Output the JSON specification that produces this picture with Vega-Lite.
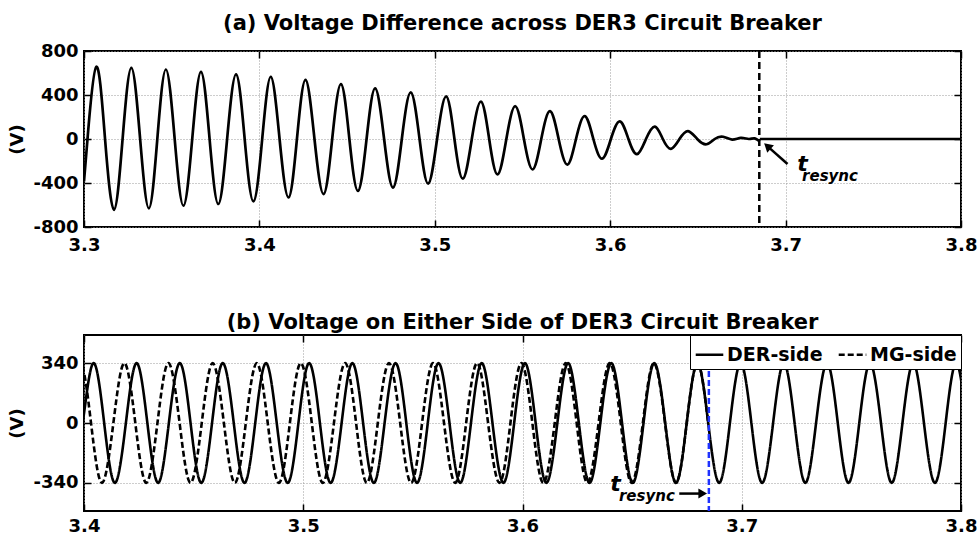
{
  "$schema": "https://vega.github.io/schema/vega-lite/v6.json",
  "background": "white",
  "padding": {"left": 7, "top": 12, "right": 2, "bottom": 0},
  "spacing": 55,
  "resolve": {"legend": {"strokeDash": "independent"}},
  "config": {
    "font": "DejaVu Sans",
    "view": {"stroke": "black", "strokeWidth": 2},
    "title": {"font": "DejaVu Sans", "fontSize": 21, "fontWeight": "bold", "color": "black", "anchor": "middle"},
    "axis": {
      "labelFont": "DejaVu Sans", "labelFontSize": 18, "labelFontWeight": "bold", "labelColor": "black",
      "titleFont": "DejaVu Sans", "titleFontSize": 18, "titleFontWeight": "bold", "titleColor": "black",
      "domain": false, "tickColor": "black", "tickWidth": 1.5, "tickSize": -7,
      "gridColor": "#9a9a9a", "gridDash": [1, 2], "gridWidth": 1,
      "labelFlush": false, "labelOverlap": false
    },
    "axisX": {"labelPadding": 16},
    "axisY": {"labelPadding": 13, "titlePadding": 6}
  },
  "datasets": {
    "diff": [
      {"t": 3.3000, "v": -386, "seg": "a"},
      {"t": 3.3020, "v": 0, "seg": "a"},
      {"t": 3.3070, "v": 656, "seg": "a"},
      {"t": 3.3120, "v": 0, "seg": "a"},
      {"t": 3.3171, "v": -644, "seg": "a"},
      {"t": 3.3220, "v": 0, "seg": "a"},
      {"t": 3.3270, "v": 647, "seg": "a"},
      {"t": 3.3320, "v": 0, "seg": "a"},
      {"t": 3.3370, "v": -630, "seg": "a"},
      {"t": 3.3418, "v": 0, "seg": "a"},
      {"t": 3.3467, "v": 632, "seg": "a"},
      {"t": 3.3517, "v": 0, "seg": "a"},
      {"t": 3.3567, "v": -606, "seg": "a"},
      {"t": 3.3617, "v": 0, "seg": "a"},
      {"t": 3.3667, "v": 611, "seg": "a"},
      {"t": 3.3716, "v": 0, "seg": "a"},
      {"t": 3.3766, "v": -591, "seg": "a"},
      {"t": 3.3816, "v": 0, "seg": "a"},
      {"t": 3.3867, "v": 587, "seg": "a"},
      {"t": 3.3916, "v": 0, "seg": "a"},
      {"t": 3.3966, "v": -567, "seg": "a"},
      {"t": 3.4016, "v": 0, "seg": "a"},
      {"t": 3.4065, "v": 566, "seg": "a"},
      {"t": 3.4115, "v": 0, "seg": "a"},
      {"t": 3.4166, "v": -532, "seg": "a"},
      {"t": 3.4214, "v": 0, "seg": "a"},
      {"t": 3.4263, "v": 537, "seg": "a"},
      {"t": 3.4314, "v": 0, "seg": "a"},
      {"t": 3.4366, "v": -501, "seg": "a"},
      {"t": 3.4415, "v": 0, "seg": "a"},
      {"t": 3.4465, "v": 498, "seg": "a"},
      {"t": 3.4513, "v": 0, "seg": "a"},
      {"t": 3.4562, "v": -472, "seg": "a"},
      {"t": 3.4611, "v": 0, "seg": "a"},
      {"t": 3.4660, "v": 460, "seg": "a"},
      {"t": 3.4711, "v": 0, "seg": "a"},
      {"t": 3.4762, "v": -442, "seg": "a"},
      {"t": 3.4812, "v": 0, "seg": "a"},
      {"t": 3.4863, "v": 423, "seg": "a"},
      {"t": 3.4913, "v": 0, "seg": "a"},
      {"t": 3.4962, "v": -406, "seg": "a"},
      {"t": 3.5013, "v": 0, "seg": "a"},
      {"t": 3.5065, "v": 387, "seg": "a"},
      {"t": 3.5112, "v": 0, "seg": "a"},
      {"t": 3.5160, "v": -361, "seg": "a"},
      {"t": 3.5211, "v": 0, "seg": "a"},
      {"t": 3.5263, "v": 340, "seg": "a"},
      {"t": 3.5310, "v": 0, "seg": "a"},
      {"t": 3.5358, "v": -322, "seg": "a"},
      {"t": 3.5408, "v": 0, "seg": "a"},
      {"t": 3.5459, "v": 298, "seg": "a"},
      {"t": 3.5508, "v": 0, "seg": "a"},
      {"t": 3.5558, "v": -277, "seg": "a"},
      {"t": 3.5607, "v": 0, "seg": "a"},
      {"t": 3.5657, "v": 253, "seg": "a"},
      {"t": 3.5706, "v": 0, "seg": "a"},
      {"t": 3.5756, "v": -233, "seg": "a"},
      {"t": 3.5805, "v": 0, "seg": "a"},
      {"t": 3.5855, "v": 208, "seg": "a"},
      {"t": 3.5904, "v": 0, "seg": "a"},
      {"t": 3.5954, "v": -179, "seg": "a"},
      {"t": 3.6004, "v": 0, "seg": "a"},
      {"t": 3.6055, "v": 161, "seg": "a"},
      {"t": 3.6104, "v": 0, "seg": "a"},
      {"t": 3.6153, "v": -138, "seg": "a"},
      {"t": 3.6204, "v": 0, "seg": "a"},
      {"t": 3.6255, "v": 113, "seg": "a"},
      {"t": 3.6300, "v": 0, "seg": "a"},
      {"t": 3.6346, "v": -89, "seg": "a"},
      {"t": 3.6395, "v": 0, "seg": "a"},
      {"t": 3.6444, "v": 72, "seg": "a"},
      {"t": 3.6496, "v": 0, "seg": "a"},
      {"t": 3.6549, "v": -48, "seg": "a"},
      {"t": 3.6596, "v": 0, "seg": "a"},
      {"t": 3.6644, "v": 20, "seg": "a"},
      {"t": 3.6695, "v": -5, "seg": "a"},
      {"t": 3.6745, "v": 10, "seg": "a"},
      {"t": 3.6790, "v": 0, "seg": "a"},
      {"t": 3.6822, "v": 6, "seg": "a"},
      {"t": 3.6853, "v": -22, "seg": "a"},
      {"t": 3.6853, "v": 0, "seg": "b"},
      {"t": 3.8000, "v": 0, "seg": "b"}
    ],
    "sides": [
      {"t": 3.3945, "v": -340, "s": "DER-side"},
      {"t": 3.3994, "v": 0, "s": "DER-side"},
      {"t": 3.4043, "v": 340, "s": "DER-side"},
      {"t": 3.4092, "v": 0, "s": "DER-side"},
      {"t": 3.4141, "v": -340, "s": "DER-side"},
      {"t": 3.4191, "v": 0, "s": "DER-side"},
      {"t": 3.4240, "v": 340, "s": "DER-side"},
      {"t": 3.4289, "v": 0, "s": "DER-side"},
      {"t": 3.4338, "v": -340, "s": "DER-side"},
      {"t": 3.4387, "v": 0, "s": "DER-side"},
      {"t": 3.4437, "v": 340, "s": "DER-side"},
      {"t": 3.4486, "v": 0, "s": "DER-side"},
      {"t": 3.4535, "v": -340, "s": "DER-side"},
      {"t": 3.4584, "v": 0, "s": "DER-side"},
      {"t": 3.4633, "v": 340, "s": "DER-side"},
      {"t": 3.4683, "v": 0, "s": "DER-side"},
      {"t": 3.4732, "v": -340, "s": "DER-side"},
      {"t": 3.4781, "v": 0, "s": "DER-side"},
      {"t": 3.4830, "v": 340, "s": "DER-side"},
      {"t": 3.4879, "v": 0, "s": "DER-side"},
      {"t": 3.4929, "v": -340, "s": "DER-side"},
      {"t": 3.4978, "v": 0, "s": "DER-side"},
      {"t": 3.5027, "v": 340, "s": "DER-side"},
      {"t": 3.5076, "v": 0, "s": "DER-side"},
      {"t": 3.5125, "v": -340, "s": "DER-side"},
      {"t": 3.5175, "v": 0, "s": "DER-side"},
      {"t": 3.5224, "v": 340, "s": "DER-side"},
      {"t": 3.5273, "v": 0, "s": "DER-side"},
      {"t": 3.5322, "v": -340, "s": "DER-side"},
      {"t": 3.5371, "v": 0, "s": "DER-side"},
      {"t": 3.5421, "v": 340, "s": "DER-side"},
      {"t": 3.5470, "v": 0, "s": "DER-side"},
      {"t": 3.5519, "v": -340, "s": "DER-side"},
      {"t": 3.5568, "v": 0, "s": "DER-side"},
      {"t": 3.5617, "v": 340, "s": "DER-side"},
      {"t": 3.5667, "v": 0, "s": "DER-side"},
      {"t": 3.5716, "v": -340, "s": "DER-side"},
      {"t": 3.5765, "v": 0, "s": "DER-side"},
      {"t": 3.5814, "v": 340, "s": "DER-side"},
      {"t": 3.5863, "v": 0, "s": "DER-side"},
      {"t": 3.5913, "v": -340, "s": "DER-side"},
      {"t": 3.5962, "v": 0, "s": "DER-side"},
      {"t": 3.6011, "v": 340, "s": "DER-side"},
      {"t": 3.6060, "v": 0, "s": "DER-side"},
      {"t": 3.6109, "v": -340, "s": "DER-side"},
      {"t": 3.6159, "v": 0, "s": "DER-side"},
      {"t": 3.6208, "v": 340, "s": "DER-side"},
      {"t": 3.6257, "v": 0, "s": "DER-side"},
      {"t": 3.6306, "v": -340, "s": "DER-side"},
      {"t": 3.6355, "v": 0, "s": "DER-side"},
      {"t": 3.6405, "v": 340, "s": "DER-side"},
      {"t": 3.6454, "v": 0, "s": "DER-side"},
      {"t": 3.6503, "v": -340, "s": "DER-side"},
      {"t": 3.6552, "v": 0, "s": "DER-side"},
      {"t": 3.6601, "v": 340, "s": "DER-side"},
      {"t": 3.6651, "v": 0, "s": "DER-side"},
      {"t": 3.6700, "v": -340, "s": "DER-side"},
      {"t": 3.6749, "v": 0, "s": "DER-side"},
      {"t": 3.6798, "v": 340, "s": "DER-side"},
      {"t": 3.6847, "v": 0, "s": "DER-side"},
      {"t": 3.6897, "v": -340, "s": "DER-side"},
      {"t": 3.6946, "v": 0, "s": "DER-side"},
      {"t": 3.6995, "v": 340, "s": "DER-side"},
      {"t": 3.7044, "v": 0, "s": "DER-side"},
      {"t": 3.7093, "v": -340, "s": "DER-side"},
      {"t": 3.7143, "v": 0, "s": "DER-side"},
      {"t": 3.7192, "v": 340, "s": "DER-side"},
      {"t": 3.7241, "v": 0, "s": "DER-side"},
      {"t": 3.7290, "v": -340, "s": "DER-side"},
      {"t": 3.7339, "v": 0, "s": "DER-side"},
      {"t": 3.7389, "v": 340, "s": "DER-side"},
      {"t": 3.7438, "v": 0, "s": "DER-side"},
      {"t": 3.7487, "v": -340, "s": "DER-side"},
      {"t": 3.7536, "v": 0, "s": "DER-side"},
      {"t": 3.7585, "v": 340, "s": "DER-side"},
      {"t": 3.7635, "v": 0, "s": "DER-side"},
      {"t": 3.7684, "v": -340, "s": "DER-side"},
      {"t": 3.7733, "v": 0, "s": "DER-side"},
      {"t": 3.7782, "v": 340, "s": "DER-side"},
      {"t": 3.7831, "v": 0, "s": "DER-side"},
      {"t": 3.7881, "v": -340, "s": "DER-side"},
      {"t": 3.7930, "v": 0, "s": "DER-side"},
      {"t": 3.7979, "v": 340, "s": "DER-side"},
      {"t": 3.8028, "v": 0, "s": "DER-side"},
      {"t": 3.8077, "v": -340, "s": "DER-side"},
      {"t": 3.3882, "v": -340, "s": "MG-side"},
      {"t": 3.3931, "v": 0, "s": "MG-side"},
      {"t": 3.3982, "v": 340, "s": "MG-side"},
      {"t": 3.4032, "v": 0, "s": "MG-side"},
      {"t": 3.4082, "v": -340, "s": "MG-side"},
      {"t": 3.4134, "v": 0, "s": "MG-side"},
      {"t": 3.4184, "v": 340, "s": "MG-side"},
      {"t": 3.4234, "v": 0, "s": "MG-side"},
      {"t": 3.4284, "v": -340, "s": "MG-side"},
      {"t": 3.4335, "v": 0, "s": "MG-side"},
      {"t": 3.4385, "v": 340, "s": "MG-side"},
      {"t": 3.4436, "v": 0, "s": "MG-side"},
      {"t": 3.4486, "v": -340, "s": "MG-side"},
      {"t": 3.4537, "v": 0, "s": "MG-side"},
      {"t": 3.4587, "v": 340, "s": "MG-side"},
      {"t": 3.4638, "v": 0, "s": "MG-side"},
      {"t": 3.4688, "v": -340, "s": "MG-side"},
      {"t": 3.4738, "v": 0, "s": "MG-side"},
      {"t": 3.4788, "v": 340, "s": "MG-side"},
      {"t": 3.4838, "v": 0, "s": "MG-side"},
      {"t": 3.4889, "v": -340, "s": "MG-side"},
      {"t": 3.4939, "v": 0, "s": "MG-side"},
      {"t": 3.4989, "v": 340, "s": "MG-side"},
      {"t": 3.5039, "v": 0, "s": "MG-side"},
      {"t": 3.5089, "v": -340, "s": "MG-side"},
      {"t": 3.5140, "v": 0, "s": "MG-side"},
      {"t": 3.5191, "v": 340, "s": "MG-side"},
      {"t": 3.5241, "v": 0, "s": "MG-side"},
      {"t": 3.5290, "v": -340, "s": "MG-side"},
      {"t": 3.5340, "v": 0, "s": "MG-side"},
      {"t": 3.5391, "v": 340, "s": "MG-side"},
      {"t": 3.5442, "v": 0, "s": "MG-side"},
      {"t": 3.5492, "v": -340, "s": "MG-side"},
      {"t": 3.5542, "v": 0, "s": "MG-side"},
      {"t": 3.5592, "v": 340, "s": "MG-side"},
      {"t": 3.5642, "v": 0, "s": "MG-side"},
      {"t": 3.5693, "v": -340, "s": "MG-side"},
      {"t": 3.5743, "v": 0, "s": "MG-side"},
      {"t": 3.5793, "v": 340, "s": "MG-side"},
      {"t": 3.5843, "v": 0, "s": "MG-side"},
      {"t": 3.5895, "v": -340, "s": "MG-side"},
      {"t": 3.5945, "v": 0, "s": "MG-side"},
      {"t": 3.5995, "v": 340, "s": "MG-side"},
      {"t": 3.6045, "v": 0, "s": "MG-side"},
      {"t": 3.6095, "v": -340, "s": "MG-side"},
      {"t": 3.6147, "v": 0, "s": "MG-side"},
      {"t": 3.6197, "v": 340, "s": "MG-side"},
      {"t": 3.6247, "v": 0, "s": "MG-side"},
      {"t": 3.6296, "v": -340, "s": "MG-side"},
      {"t": 3.6347, "v": 0, "s": "MG-side"},
      {"t": 3.6398, "v": 340, "s": "MG-side"},
      {"t": 3.6448, "v": 0, "s": "MG-side"},
      {"t": 3.6498, "v": -340, "s": "MG-side"},
      {"t": 3.6549, "v": 0, "s": "MG-side"},
      {"t": 3.6599, "v": 340, "s": "MG-side"},
      {"t": 3.6650, "v": 0, "s": "MG-side"},
      {"t": 3.6700, "v": -340, "s": "MG-side"},
      {"t": 3.6749, "v": 0, "s": "MG-side"},
      {"t": 3.6798, "v": 340, "s": "MG-side"},
      {"t": 3.6847, "v": 0, "s": "MG-side"}
    ]
  },
  "vconcat": [
    {
      "width": 877,
      "height": 176,
      "title": {"text": "(a) Voltage Difference across DER3 Circuit Breaker", "offset": 8},
      "resolve": {"axis": {"x": "independent", "y": "independent"}},
      "layer": [
        {
          "data": {"name": "diff"},
          "mark": {"type": "line", "interpolate": "natural", "color": "black", "strokeWidth": 2.7, "clip": true},
          "encoding": {
            "x": {"field": "t", "type": "quantitative", "scale": {"domain": [3.3, 3.8], "nice": false, "zero": false},
                  "axis": {"values": [3.3, 3.4, 3.5, 3.6, 3.7, 3.8], "format": ".1f", "title": null}},
            "y": {"field": "v", "type": "quantitative", "scale": {"domain": [-800, 800], "nice": false, "zero": false},
                  "axis": {"values": [-800, -400, 0, 400, 800], "title": "(V)", "labelExpr": "datum.value < 0 ? '-' + (-datum.value) : '' + datum.value"}},
            "detail": {"field": "seg"}
          }
        },
        {
          "data": {"values": [{"t": 3.685}]},
          "mark": {"type": "rule", "color": "black", "strokeWidth": 2.5, "strokeDash": [7, 4]},
          "encoding": {"x": {"field": "t", "type": "quantitative", "axis": null}}
        },
        {
          "data": {"values": [{"t": 3.7011, "v": -227, "t2": 3.6899, "v2": -69}]},
          "mark": {"type": "rule", "color": "black", "strokeWidth": 2.5},
          "encoding": {
            "x": {"field": "t", "type": "quantitative", "axis": {"orient": "top", "labels": false, "grid": false, "title": null, "values": [3.3, 3.4, 3.5, 3.6, 3.7, 3.8]}},
            "y": {"field": "v", "type": "quantitative", "axis": {"orient": "right", "labels": false, "grid": false, "title": null, "values": [-800, -400, 0, 400, 800]}},
            "x2": {"field": "t2"},
            "y2": {"field": "v2"}
          }
        },
        {
          "data": {"values": [{"t": 3.6896, "v": -64}]},
          "mark": {"type": "point", "shape": "triangle-up", "filled": true, "color": "black", "opacity": 1, "size": 100, "angle": 312},
          "encoding": {
            "x": {"field": "t", "type": "quantitative", "axis": null},
            "y": {"field": "v", "type": "quantitative", "axis": null}
          }
        },
        {
          "data": {"values": [{"t": 3.7066, "v": -290, "label": "t"}]},
          "mark": {"type": "text", "align": "left", "baseline": "alphabetic", "font": "DejaVu Sans", "fontSize": 22, "fontWeight": "bold", "fontStyle": "italic", "color": "black"},
          "encoding": {
            "x": {"field": "t", "type": "quantitative", "axis": null},
            "y": {"field": "v", "type": "quantitative", "axis": null},
            "text": {"field": "label"}
          }
        },
        {
          "data": {"values": [{"t": 3.7094, "v": -385, "label": "resync"}]},
          "mark": {"type": "text", "align": "left", "baseline": "alphabetic", "font": "DejaVu Sans", "fontSize": 15, "fontWeight": "bold", "fontStyle": "italic", "color": "black"},
          "encoding": {
            "x": {"field": "t", "type": "quantitative", "axis": null},
            "y": {"field": "v", "type": "quantitative", "axis": null},
            "text": {"field": "label"}
          }
        }
      ]
    },
    {
      "width": 877,
      "height": 176,
      "title": {"text": "(b) Voltage on Either Side of DER3 Circuit Breaker", "offset": 1},
      "resolve": {"axis": {"x": "independent", "y": "independent"}},
      "layer": [
        {
          "data": {"name": "sides"},
          "mark": {"type": "line", "interpolate": "natural", "color": "black", "strokeWidth": 2.6, "clip": true},
          "encoding": {
            "x": {"field": "t", "type": "quantitative", "scale": {"domain": [3.4, 3.8], "nice": false, "zero": false},
                  "axis": {"values": [3.4, 3.5, 3.6, 3.7, 3.8], "format": ".1f", "title": null, "labelPadding": 13}},
            "y": {"field": "v", "type": "quantitative", "scale": {"domain": [-500, 500], "nice": false, "zero": false},
                  "axis": {"values": [-340, 0, 340], "title": "(V)", "labelExpr": "datum.value < 0 ? '-' + (-datum.value) : '' + datum.value"}},
            "strokeDash": {"field": "s", "type": "nominal",
                           "scale": {"domain": ["DER-side", "MG-side"], "range": [[1, 0], [6, 3]]},
                           "legend": {"title": null, "orient": "top-right", "direction": "horizontal", "offset": 0,
                                      "fillColor": "white", "strokeColor": "black", "padding": 4,
                                      "labelFont": "DejaVu Sans", "labelFontSize": 19, "labelFontWeight": "bold", "labelColor": "black",
                                      "symbolType": "stroke", "symbolSize": 760, "symbolStrokeWidth": 2.5, "symbolStrokeColor": "black",
                                      "columnPadding": 10, "labelOffset": 2}}
          }
        },
        {
          "data": {"values": [{"t": 3.685}]},
          "mark": {"type": "rule", "color": "#1f32ff", "strokeWidth": 2.5, "strokeDash": [6, 3]},
          "encoding": {"x": {"field": "t", "type": "quantitative", "axis": null}}
        },
        {
          "data": {"values": [{"t": 3.6715, "v": -401, "t2": 3.6818, "v2": -401}]},
          "mark": {"type": "rule", "color": "black", "strokeWidth": 2.5},
          "encoding": {
            "x": {"field": "t", "type": "quantitative", "axis": {"orient": "top", "labels": false, "grid": false, "title": null, "values": [3.4, 3.5, 3.6, 3.7, 3.8]}},
            "y": {"field": "v", "type": "quantitative", "axis": {"orient": "right", "labels": false, "grid": false, "title": null, "values": [-340, 0, 340]}},
            "x2": {"field": "t2"},
            "y2": {"field": "v2"}
          }
        },
        {
          "data": {"values": [{"t": 3.6822, "v": -401}]},
          "mark": {"type": "point", "shape": "triangle-up", "filled": true, "color": "black", "opacity": 1, "size": 100, "angle": 90},
          "encoding": {
            "x": {"field": "t", "type": "quantitative", "axis": null},
            "y": {"field": "v", "type": "quantitative", "axis": null}
          }
        },
        {
          "data": {"values": [{"t": 3.6400, "v": -384, "label": "t"}]},
          "mark": {"type": "text", "align": "left", "baseline": "alphabetic", "font": "DejaVu Sans", "fontSize": 22, "fontWeight": "bold", "fontStyle": "italic", "color": "black"},
          "encoding": {
            "x": {"field": "t", "type": "quantitative", "axis": null},
            "y": {"field": "v", "type": "quantitative", "axis": null},
            "text": {"field": "label"}
          }
        },
        {
          "data": {"values": [{"t": 3.6440, "v": -442, "label": "resync"}]},
          "mark": {"type": "text", "align": "left", "baseline": "alphabetic", "font": "DejaVu Sans", "fontSize": 15, "fontWeight": "bold", "fontStyle": "italic", "color": "black"},
          "encoding": {
            "x": {"field": "t", "type": "quantitative", "axis": null},
            "y": {"field": "v", "type": "quantitative", "axis": null},
            "text": {"field": "label"}
          }
        }
      ]
    }
  ]
}
